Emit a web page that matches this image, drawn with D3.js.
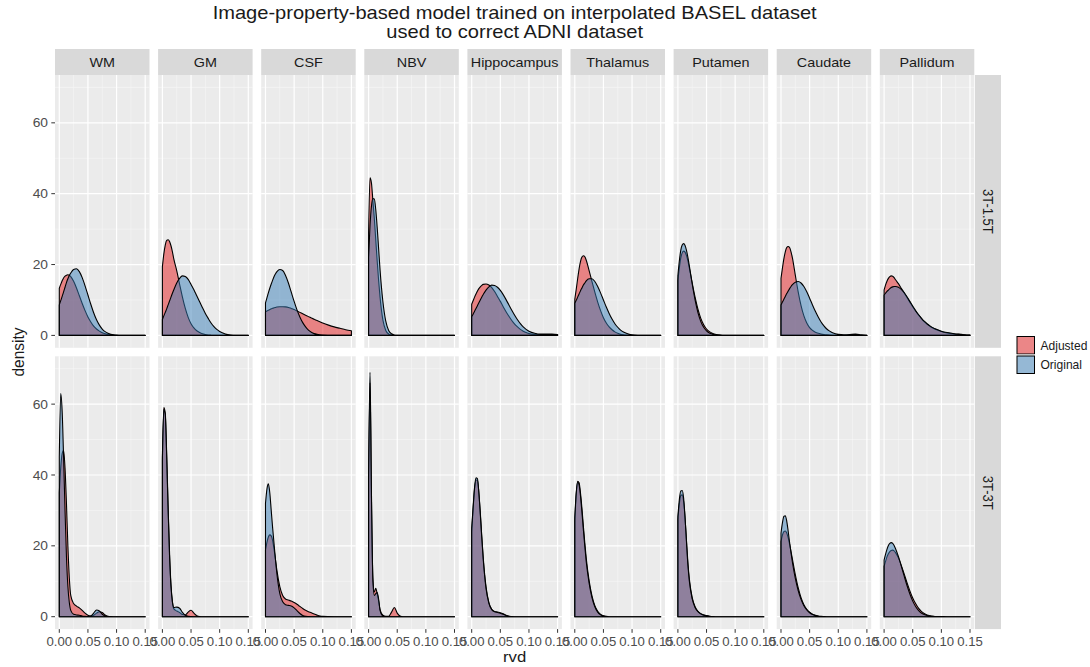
<!DOCTYPE html>
<html>
<head>
<meta charset="utf-8">
<script src="https://cdn.jsdelivr.net/npm/d3@7"></script>
<style>
  html, body { margin: 0; padding: 0; background: #ffffff; }
  svg { display: block; }
</style>
</head>
<body>
<div id="chart"></div>
<script>
// ---- data -------------------------------------------------------------
const regions = ["WM", "GM", "CSF", "NBV", "Hippocampus", "Thalamus", "Putamen", "Caudate", "Pallidum"];
const scanners = ["3T-1.5T", "3T-3T"];
const groups = ["Adjusted", "Original"];
const xTicks = [0, 0.05, 0.10, 0.15];
const yTicks = [0, 20, 40, 60];

// evaluation grid of the density estimates (rvd)
const rvd = [0, 0.0025, 0.005, 0.0075, 0.01, 0.0125, 0.015, 0.0175, 0.02, 0.025, 0.03, 0.035, 0.04, 0.045, 0.05,
             0.055, 0.06, 0.065, 0.07, 0.075, 0.08, 0.085, 0.09, 0.095, 0.1, 0.11, 0.12, 0.13, 0.14, 0.15];

// density of rvd, one row per region (order of `regions`)
const adjusted15 = [
  [13.3, 14.4, 15.4, 16.2, 16.7, 17.0, 17.1, 17.0, 16.6, 15.3, 13.4, 11.2, 9.0, 7.0, 5.2, 3.8, 2.6, 1.8, 1.2, 0.75, 0.45, 0.28, 0.16, 0.09, 0.05, 0.02, 0, 0, 0, 0],
  [19.4, 23.0, 25.5, 26.8, 27.0, 26.5, 25.3, 23.6, 21.5, 18.3, 14.5, 10.8, 7.6, 5.1, 3.3, 2.1, 1.3, 0.8, 0.45, 0.25, 0.12, 0.06, 0.03, 0.01, 0, 0, 0, 0, 0, 0],
  [6.7, 6.9, 7.1, 7.3, 7.5, 7.65, 7.8, 7.9, 8.0, 8.1, 8.1, 8.05, 7.9, 7.6, 7.3, 6.9, 6.5, 6.1, 5.7, 5.3, 4.9, 4.55, 4.2, 3.85, 3.5, 2.9, 2.4, 2.0, 1.6, 1.3],
  [29, 44.5, 43, 38, 33, 27, 21, 15.5, 10.8, 4.3, 1.4, 0.4, 0.1, 0.02, 0, 0, 0, 0, 0, 0, 0, 0, 0, 0, 0, 0, 0, 0, 0, 0],
  [8.8, 9.8, 10.8, 11.7, 12.5, 13.2, 13.7, 14.1, 14.4, 14.5, 14.2, 13.5, 12.4, 11.0, 9.6, 8.1, 6.7, 5.4, 4.2, 3.2, 2.4, 1.7, 1.2, 0.8, 0.55, 0.3, 0.2, 0.25, 0.25, 0.2],
  [10.2, 13.0, 16.0, 18.8, 20.9, 22.1, 22.5, 22.2, 21.2, 18.3, 15.2, 12.2, 9.4, 7.0, 5.0, 3.5, 2.4, 1.6, 1.0, 0.6, 0.35, 0.2, 0.1, 0.05, 0.03, 0, 0, 0, 0, 0],
  [15.5, 19.0, 21.8, 23.3, 23.8, 23.5, 22.5, 21.0, 19.0, 14.8, 10.8, 7.4, 4.8, 3.0, 1.8, 1.05, 0.6, 0.35, 0.2, 0.12, 0.06, 0.03, 0.01, 0, 0, 0, 0, 0, 0, 0],
  [16.1, 19.0, 21.6, 23.6, 24.8, 25.1, 24.8, 23.6, 21.8, 17.0, 12.3, 8.4, 5.5, 3.5, 2.2, 1.4, 0.9, 0.6, 0.4, 0.25, 0.15, 0.09, 0.05, 0.02, 0.01, 0, 0, 0, 0, 0],
  [12.8, 14.2, 15.3, 16.1, 16.6, 16.8, 16.7, 16.3, 15.7, 14.6, 13.3, 12.0, 10.7, 9.4, 8.1, 6.9, 5.8, 4.8, 3.9, 3.2, 2.6, 2.1, 1.7, 1.4, 1.1, 0.7, 0.45, 0.3, 0.15, 0.08]
];
const original15 = [
  [8.6, 9.8, 11.0, 12.3, 13.6, 14.9, 16.0, 16.9, 17.6, 18.6, 18.8, 18.0, 16.3, 14.0, 11.4, 8.8, 6.4, 4.4, 2.9, 1.8, 1.05, 0.6, 0.32, 0.17, 0.09, 0.02, 0, 0, 0, 0],
  [4.5, 5.5, 6.5, 7.5, 8.6, 9.7, 10.8, 11.9, 12.9, 14.8, 16.1, 16.8, 16.6, 15.8, 14.4, 12.9, 11.2, 9.5, 7.8, 6.2, 4.8, 3.5, 2.5, 1.7, 1.1, 0.4, 0.12, 0.03, 0, 0],
  [9.2, 10.6, 12.0, 13.3, 14.5, 15.6, 16.6, 17.4, 18.0, 18.6, 18.3, 16.9, 14.8, 12.2, 9.6, 7.2, 5.2, 3.6, 2.4, 1.5, 0.9, 0.5, 0.28, 0.15, 0.08, 0.02, 0, 0, 0, 0],
  [22, 31, 36.5, 38.6, 38.5, 35.5, 30.5, 24.5, 18.5, 9.5, 4.0, 1.4, 0.45, 0.12, 0.03, 0, 0, 0, 0, 0, 0, 0, 0, 0, 0, 0, 0, 0, 0, 0],
  [5.3, 6.0, 6.8, 7.6, 8.4, 9.2, 10.0, 10.8, 11.5, 12.8, 13.7, 14.2, 14.1, 13.6, 12.7, 11.5, 10.1, 8.6, 7.1, 5.7, 4.4, 3.3, 2.4, 1.7, 1.2, 0.6, 0.35, 0.35, 0.35, 0.25],
  [9.1, 9.9, 10.8, 11.7, 12.6, 13.4, 14.2, 14.8, 15.4, 16.0, 16.0, 15.2, 13.8, 12.0, 10.0, 8.0, 6.2, 4.6, 3.3, 2.3, 1.5, 0.95, 0.6, 0.35, 0.2, 0.06, 0.02, 0, 0, 0],
  [17.0, 21.0, 24.0, 25.5, 25.9, 25.4, 24.0, 22.0, 19.6, 14.5, 10.0, 6.4, 3.9, 2.3, 1.3, 0.7, 0.4, 0.2, 0.1, 0.06, 0.03, 0.01, 0, 0, 0, 0, 0, 0, 0, 0],
  [8.6, 9.4, 10.2, 11.0, 11.8, 12.5, 13.2, 13.8, 14.3, 15.0, 15.2, 14.8, 13.8, 12.3, 10.5, 8.6, 6.8, 5.2, 3.8, 2.7, 1.8, 1.2, 0.75, 0.45, 0.3, 0.2, 0.25, 0.35, 0.2, 0.05],
  [11.4, 11.9, 12.4, 12.8, 13.2, 13.5, 13.7, 13.8, 13.8, 13.6, 13.0, 12.1, 10.9, 9.6, 8.3, 7.0, 5.9, 4.9, 4.0, 3.3, 2.7, 2.2, 1.8, 1.5, 1.2, 0.8, 0.55, 0.35, 0.2, 0.1]
];
const adjusted3 = [
  [35, 42, 46, 47, 42, 32, 20, 11, 6, 3.7, 3.0, 2.5, 1.8, 1.0, 0.4, 0.2, 0.4, 1.0, 1.4, 1.2, 0.5, 0.15, 0.03, 0, 0, 0, 0, 0, 0, 0],
  [45, 59, 57.5, 46, 31, 18, 9, 4.2, 2.2, 1.6, 1.2, 0.6, 0.5, 1.3, 1.8, 1.0, 0.3, 0.05, 0, 0, 0, 0, 0, 0, 0, 0, 0, 0, 0, 0],
  [18.9, 21.0, 22.5, 23.1, 22.8, 21.5, 19.0, 16.0, 13.0, 8.5, 6.0, 5.0, 4.7, 4.4, 4.0, 3.5, 2.9, 2.3, 1.8, 1.4, 1.1, 0.75, 0.45, 0.2, 0.08, 0.02, 0, 0, 0, 0],
  [38, 66, 33, 11, 7, 8, 6.5, 4.5, 2, 0.4, 0.1, 0.1, 1.3, 2.6, 1.0, 0.2, 0, 0, 0, 0, 0, 0, 0, 0, 0, 0, 0, 0, 0, 0],
  [24, 30.5, 36, 38.6, 38.5, 35, 29.5, 23, 17, 8.5, 4, 2.1, 1.5, 1.3, 1.1, 0.8, 0.4, 0.15, 0.05, 0, 0, 0, 0, 0, 0, 0, 0, 0, 0, 0],
  [27, 34.5, 38.2, 37.8, 34.8, 30.5, 25.5, 20.8, 16.5, 10.2, 5.9, 3.1, 1.5, 0.65, 0.25, 0.08, 0, 0, 0, 0, 0, 0, 0, 0, 0, 0, 0, 0, 0, 0],
  [27.4, 31.8, 34.2, 34.4, 32.5, 27.8, 21.5, 15.2, 10.6, 5.4, 2.8, 1.5, 0.85, 0.5, 0.3, 0.15, 0.06, 0, 0, 0, 0, 0, 0, 0, 0, 0, 0, 0, 0, 0],
  [21.2, 23.0, 24.0, 24.2, 23.6, 22.3, 20.5, 18.4, 16.2, 11.9, 8.2, 5.4, 3.4, 2.1, 1.25, 0.7, 0.38, 0.2, 0.08, 0.03, 0, 0, 0, 0, 0, 0, 0, 0, 0, 0],
  [14.2, 15.6, 16.9, 17.8, 18.4, 18.7, 18.8, 18.6, 18.1, 16.6, 14.5, 12.1, 9.6, 7.3, 5.3, 3.7, 2.4, 1.5, 0.9, 0.5, 0.28, 0.14, 0.07, 0.03, 0.02, 0, 0, 0, 0, 0]
];
const original3 = [
  [45, 63, 58, 45, 30, 17, 8.5, 4, 1.8, 0.7, 0.5, 0.4, 0.2, 0.1, 0.05, 0.2, 1.0, 1.9, 1.6, 0.7, 0.2, 0.05, 0, 0, 0, 0, 0, 0, 0, 0],
  [44, 58.5, 57, 45, 30, 17, 8.5, 4.2, 2.6, 2.7, 2.4, 1.2, 0.4, 0.1, 0.03, 0, 0, 0, 0, 0, 0, 0, 0, 0, 0, 0, 0, 0, 0, 0],
  [32, 36, 37.5, 35, 30, 25, 20.5, 16, 12, 6.5, 4.2, 3.4, 3.2, 3.0, 2.5, 1.7, 0.9, 0.35, 0.1, 0.03, 0, 0, 0, 0, 0, 0, 0, 0, 0, 0],
  [40, 69, 35, 10, 6, 6.5, 6.8, 5, 1.8, 0.2, 0, 0, 0, 0, 0, 0, 0, 0, 0, 0, 0, 0, 0, 0, 0, 0, 0, 0, 0, 0],
  [25, 31, 36.5, 39.2, 39, 35, 29, 22.5, 16.5, 8, 3.8, 2.0, 1.4, 1.2, 1.0, 0.7, 0.35, 0.1, 0.03, 0, 0, 0, 0, 0, 0, 0, 0, 0, 0, 0],
  [28, 35, 38, 37.2, 34, 29.5, 24.5, 19.8, 15.5, 9.5, 5.4, 2.8, 1.3, 0.55, 0.2, 0.06, 0, 0, 0, 0, 0, 0, 0, 0, 0, 0, 0, 0, 0, 0],
  [28.3, 33, 35.5, 35.6, 33.5, 28, 21, 14.5, 10, 5, 2.6, 1.4, 0.8, 0.45, 0.25, 0.12, 0.05, 0, 0, 0, 0, 0, 0, 0, 0, 0, 0, 0, 0, 0],
  [23.6, 26.5, 28.3, 28.5, 27, 24.2, 21, 18, 15.3, 10.8, 7.4, 4.9, 3.1, 1.9, 1.1, 0.6, 0.3, 0.15, 0.06, 0, 0, 0, 0, 0, 0, 0, 0, 0, 0, 0],
  [16, 17.6, 19, 20.1, 20.7, 20.9, 20.7, 20.1, 19.2, 17, 14.3, 11.5, 8.8, 6.4, 4.4, 2.9, 1.8, 1.05, 0.6, 0.32, 0.17, 0.08, 0.04, 0, 0, 0, 0, 0, 0, 0]
];

// ---- layout -----------------------------------------------------------
const W = 1090, H = 667;
const font = "'Liberation Sans', Arial, Helvetica, sans-serif";
const sx = 1.08;                       // horizontal text widening
const panelX0 = 55, panelW = 94.5, colStep = 103.1;
const rowTops = [75, 356.3], panelH = 272.8;
const stripH = 26, rowStripX = 975, rowStripW = 26;
const fills = { Adjusted: "#E41A1C", Original: "#377EB8" };
const seriesByRow = [
  { Adjusted: adjusted15, Original: original15 },
  { Adjusted: adjusted3, Original: original3 }
];

const svg = d3.select("#chart").append("svg")
  .attr("width", W).attr("height", H)
  .style("font-family", font);
svg.append("rect").attr("width", W).attr("height", H).attr("fill", "#ffffff");

function label(parent, x, y, str, size, opts = {}) {
  const s = opts.sx || sx;
  const t = parent.append("text")
    .attr("transform", `translate(${x},${y}) scale(${s},1)` + (opts.rotate ? ` rotate(${opts.rotate})` : ""))
    .attr("text-anchor", opts.anchor || "middle")
    .attr("font-size", size)
    .attr("fill", opts.fill || "#1A1A1A")
    .text(str);
  if (opts.dy) t.attr("dy", opts.dy);
  return t;
}

const x = d3.scaleLinear().domain([-0.0075, 0.1575]);
const y = d3.scaleLinear().domain([-3.5, 73.5]);
const defs = svg.append("defs");

// title
const panelsCenter = panelX0 + (8 * colStep + panelW) / 2;
label(svg, panelsCenter, 19, "Image-property-based model trained on interpolated BASEL dataset", 18.6);
label(svg, panelsCenter, 38, "used to correct ADNI dataset", 18.6);

scanners.forEach((scan, r) => {
  const top = rowTops[r];
  regions.forEach((reg, c) => {
    const left = panelX0 + c * colStep;
    x.range([left, left + panelW]);
    y.range([top + panelH, top]);
    const g = svg.append("g");

    g.append("rect").attr("x", left).attr("y", top).attr("width", panelW).attr("height", panelH)
      .attr("fill", "#EBEBEB");

    // grid
    const xMinor = [0.025, 0.075, 0.125];
    const yMinor = [10, 30, 50, 70];
    g.selectAll(".vmin").data(xMinor).join("line")
      .attr("x1", d => x(d)).attr("x2", d => x(d)).attr("y1", top).attr("y2", top + panelH)
      .attr("stroke", "#F7F7F7").attr("stroke-width", 0.6);
    g.selectAll(".hmin").data(yMinor).join("line")
      .attr("y1", d => y(d)).attr("y2", d => y(d)).attr("x1", left).attr("x2", left + panelW)
      .attr("stroke", "#F7F7F7").attr("stroke-width", 0.6);
    g.selectAll(".vmaj").data(xTicks).join("line")
      .attr("x1", d => x(d)).attr("x2", d => x(d)).attr("y1", top).attr("y2", top + panelH)
      .attr("stroke", "#FFFFFF").attr("stroke-width", 1.2);
    g.selectAll(".hmaj").data(yTicks).join("line")
      .attr("y1", d => y(d)).attr("y2", d => y(d)).attr("x1", left).attr("x2", left + panelW)
      .attr("stroke", "#FFFFFF").attr("stroke-width", 1.2);

    // densities
    const clipId = `clip-${r}-${c}`;
    defs.append("clipPath").attr("id", clipId).append("rect")
      .attr("x", left).attr("y", top).attr("width", panelW).attr("height", panelH);
    const area = d3.area()
      .x((d, i) => x(rvd[i]))
      .y0(y(0))
      .y1(d => y(d))
      .curve(d3.curveMonotoneX);
    const dg = g.append("g").attr("clip-path", `url(#${clipId})`);
    groups.forEach(grp => {
      dg.append("path")
        .datum(seriesByRow[r][grp][c])
        .attr("d", area)
        .attr("fill", fills[grp]).attr("fill-opacity", 0.5)
        .attr("stroke", "#000000").attr("stroke-width", 1.1)
        .attr("stroke-linejoin", "round");
    });

    // column strip (top row only)
    if (r === 0) {
      svg.append("rect").attr("x", left).attr("y", top - stripH).attr("width", panelW).attr("height", stripH)
        .attr("fill", "#D9D9D9");
      label(svg, left + panelW / 2, top - stripH / 2, reg, 13.3, { dy: "0.36em" });
    }

    // y axis (first column)
    if (c === 0) {
      yTicks.forEach(t => {
        svg.append("line").attr("x1", left - 3.7).attr("x2", left).attr("y1", y(t)).attr("y2", y(t))
          .attr("stroke", "#333333").attr("stroke-width", 1);
        label(svg, left - 7, y(t), String(t), 12.8, { anchor: "end", fill: "#4D4D4D", dy: "0.36em" });
      });
    }

    // x axis (bottom row)
    if (r === 1) {
      const fmt = d3.format(".2f");
      xTicks.forEach(t => {
        svg.append("line").attr("x1", x(t)).attr("x2", x(t)).attr("y1", top + panelH).attr("y2", top + panelH + 3.7)
          .attr("stroke", "#333333").attr("stroke-width", 1);
        label(svg, x(t), top + panelH + 16.6, fmt(t), 12.2, { fill: "#4D4D4D" });
      });
    }
  });

  // row strip
  svg.append("rect").attr("x", rowStripX).attr("y", top).attr("width", rowStripW).attr("height", panelH)
    .attr("fill", "#D9D9D9");
  label(svg, rowStripX + rowStripW / 2, top + panelH / 2, scan, 13, { rotate: 90, dy: "0.36em" });
});

// axis titles
label(svg, panelsCenter, 662, "rvd", 15.5);
label(svg, 24, (rowTops[0] + rowTops[1] + panelH) / 2, "density", 15.5, { rotate: -90 });

// legend
const keySize = 19.5, keyX = 1016;
const keyY0 = 335.5;
groups.forEach((grp, i) => {
  const ky = keyY0 + i * keySize;
  svg.append("rect").attr("x", keyX).attr("y", ky).attr("width", keySize).attr("height", keySize)
    .attr("fill", "#F2F2F2").attr("stroke", "#FFFFFF").attr("stroke-width", 1);
  svg.append("rect").attr("x", keyX + 1).attr("y", ky + 1).attr("width", keySize - 2).attr("height", keySize - 2)
    .attr("fill", fills[grp]).attr("fill-opacity", 0.5)
    .attr("stroke", "#000000").attr("stroke-width", 1);
  label(svg, keyX + keySize + 5, ky + keySize / 2, grp, 12.3, { anchor: "start", dy: "0.36em", sx: 0.98 });
});
</script>
</body>
</html>
